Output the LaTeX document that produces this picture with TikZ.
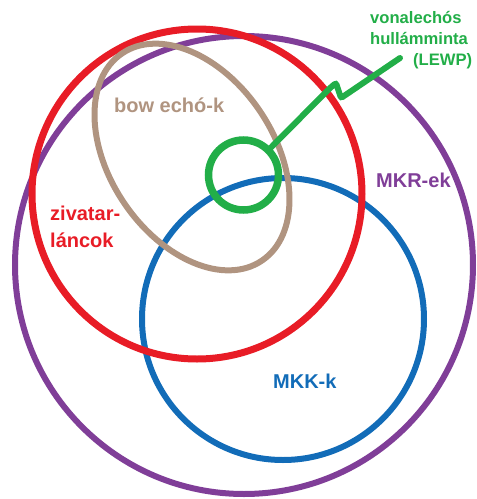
\documentclass[tikz,border=0pt]{standalone}
\usepackage{fontspec}
\setmainfont{Liberation Sans}
\usetikzlibrary{shapes.geometric, positioning, calc}
\definecolor{mkrpurple}{RGB}{128,62,152}
\definecolor{zlred}{RGB}{232,28,38}
\definecolor{mkkblue}{RGB}{18,108,184}
\definecolor{bowbrown}{RGB}{176,148,128}
\definecolor{lewpgreen}{RGB}{34,174,72}
\tikzstyle{ring} = [circle,draw,inner sep=0pt,line width=6pt]
\tikzstyle{lbl} = [inner sep=0pt,anchor=base west,font=\bfseries\fontsize{20}{27}\selectfont]

\begin{document}
\begin{tikzpicture}[x=1pt,y=-1pt]
	\useasboundingbox (0,0) rectangle (477,499);
	\node[ring,draw=mkrpurple,minimum size=458pt](mkr) at (244,265){};
	\node[ring,draw=mkkblue,minimum size=282pt](mkk) at (283,319){};
	\node[ring,draw=zlred,line width=7pt,minimum size=330pt](zl) at (197,194){};
	\node[ellipse,draw=bowbrown,line width=6pt,inner sep=0pt,minimum width=250pt,minimum height=164pt,rotate=-56](bow) at (192,157){};
	\node[ring,draw=lewpgreen,line width=7.5pt,minimum size=70pt](lewp) at (243.5,175){};
	\coordinate (lewp_end) at (400,58);
	% zigzag connector to the LEWP label
	\draw[lewpgreen,line width=6pt,line cap=round,rounded corners=2pt]
		(lewp.45) -- (330,88) -- (336,83) -- (341,98) -- (lewp_end);
	% labels (multi-line ones sit on their last baseline)
	\node[lbl,text=bowbrown](t_bow) at (114,112){bow echó-k};
	\node[lbl,text=zlred,align=left](t_zl) at (50,247){zivatar-\\láncok};
	\node[lbl,text=mkrpurple](t_mkr) at (376,187){MKR-ek};
	\node[lbl,text=mkkblue](t_mkk) at (273,388){MKK-k};
	\node[lbl,text=lewpgreen,align=left,font=\bfseries\fontsize{16.6}{21}\selectfont](t_lewp) at (370,65){vonalechós\\hullámminta\\\hspace*{43pt}(LEWP)};
\end{tikzpicture}
\end{document}
